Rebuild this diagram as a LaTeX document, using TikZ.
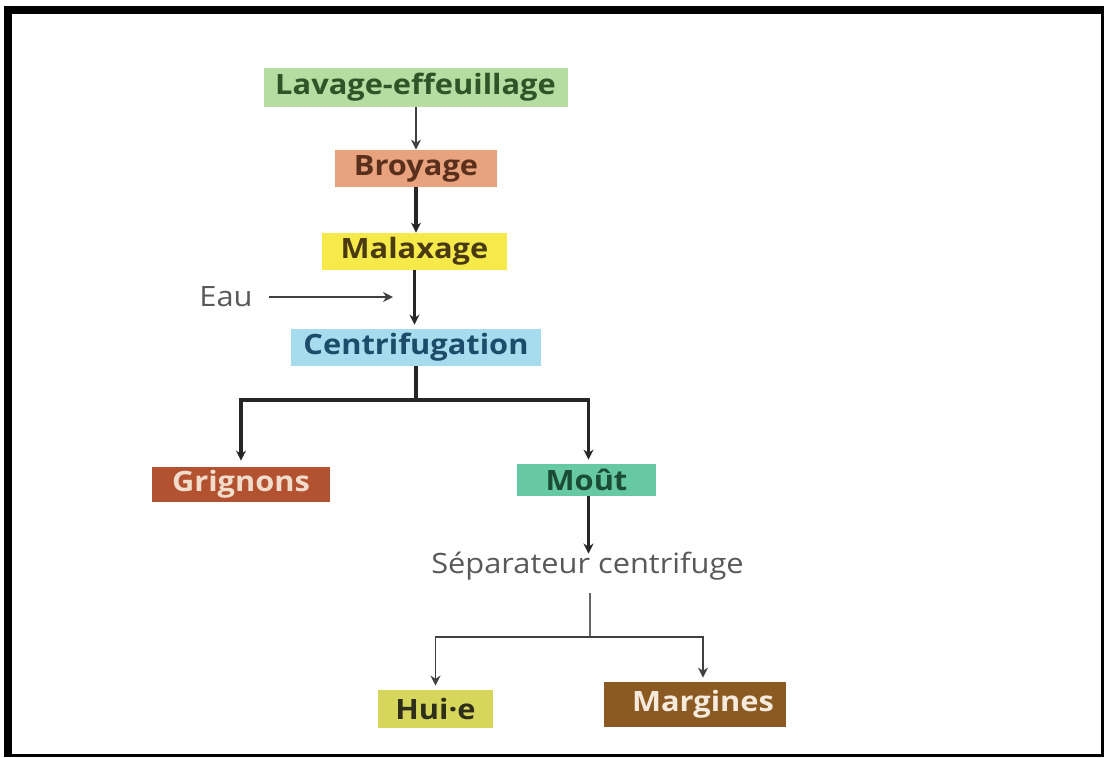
\documentclass[tikz,border=0pt]{standalone}
\usepackage{fontspec}
\setmainfont{Open Sans}
\newfontfamily\boxfont[FakeStretch=1.1]{Open Sans}
\usetikzlibrary{arrows.meta}

\definecolor{lavfill}{HTML}{B6DCA2}
\definecolor{lavtext}{HTML}{2E5528}
\definecolor{broyfill}{HTML}{E8A27E}
\definecolor{broytext}{HTML}{5A301C}
\definecolor{malfill}{HTML}{F6EA4A}
\definecolor{maltext}{HTML}{4A3A12}
\definecolor{cenfill}{HTML}{A6DCED}
\definecolor{centext}{HTML}{1D4C6B}
\definecolor{grigfill}{HTML}{B35230}
\definecolor{grigtext}{HTML}{F2DCCB}
\definecolor{moutfill}{HTML}{66C9A3}
\definecolor{mouttext}{HTML}{1B4D36}
\definecolor{huilfill}{HTML}{D6D65C}
\definecolor{huiltext}{HTML}{2E2E1A}
\definecolor{margfill}{HTML}{8B5A22}
\definecolor{margtext}{HTML}{F5EADC}

\tikzstyle{block} = [rectangle, inner sep=0pt, font=\boxfont\fontsize{14}{16}\selectfont\bfseries]
\tikzstyle{plain} = [inner sep=0pt, font=\boxfont\fontsize{14}{16}\selectfont, text=black!65]
\tikzstyle{flow} = [->, line width=1.7pt, black!85]
\tikzstyle{thinflow} = [->, line width=0.75pt, black!75]

\begin{document}
\begin{tikzpicture} [x=0.5pt, y=-0.5pt, >={Stealth[length=5pt,width=5pt]}]

% frame
\useasboundingbox (0,0) rectangle (1104,757);
\fill[black] (4,6) rectangle (1104,757);
\fill[white] (12,14) rectangle (1101,754);

\node at (415.5,87.5)[block,fill=lavfill,
               minimum width=152pt,minimum height=19.5pt]
               (lav) {\textcolor{lavtext}{Lavage-effeuillage}};

\node at (416,168.5)[block,fill=broyfill,
               minimum width=81pt,minimum height=18.5pt]
               (broy) {\textcolor{broytext}{Broyage}};

\node at (414.5,251.5)[block,fill=malfill,
               minimum width=92.5pt,minimum height=18.5pt]
               (malax) {\textcolor{maltext}{Malaxage}};

\node at (416,347.5)[block,fill=cenfill,
               minimum width=125pt,minimum height=18.5pt]
               (centri) {\textcolor{centext}{Centrifugation}};

\node at (226,297)[plain] (eau) {Eau};
\coordinate (eauend) at (393,297);

\draw[thinflow] (broy.north |- lav.south) -- (broy.north);
\draw[flow] (broy.south) -- (broy.south |- malax.north);
\draw[flow] (malax.south) -- ([yshift=2pt]malax.south |- centri.north);
\draw[thinflow,shorten <=8pt] (eau.east) -- (eauend);

\node at (241,484.5)[block,fill=grigfill,
               minimum width=89pt,minimum height=17.5pt]
               (grig) {\textcolor{grigtext}{Grignons}};

\node at (586.5,480)[block,fill=moutfill,
               minimum width=69.5pt,minimum height=16pt]
               (mout) {\textcolor{mouttext}{Moût}};

\coordinate (split) at (416,400);
\draw[line width=1.7pt,black!85] (centri.south) -- (split);
\draw[flow] (split) -| ([yshift=3pt]grig.north);
\draw[flow] (split) -| ([xshift=1pt,yshift=2pt]mout.north);

\node at (587.5,566)[plain] (sep) {Séparateur centrifuge};
\draw[flow] ([xshift=1pt]mout.south) -- ([xshift=1pt,yshift=-1pt]mout.south |- sep.north);

\node at (435.5,709)[block,fill=huilfill,
               minimum width=57.5pt,minimum height=19pt]
               (huile) {\textcolor{huiltext}{Hui·e}};

\node at (695,704.5)[block,fill=margfill,
               minimum width=91pt,minimum height=22.5pt]
               (marg) {\textcolor{margtext}{\hspace{8pt}Margines}};

\coordinate (split2) at (590,637);
\draw[line width=0.75pt,black!60] ([yshift=-6pt]sep.south -| split2) -- (split2);
\draw[thinflow] (split2) -| ([yshift=2pt]huile.north);
\draw[thinflow] (split2) -| ([xshift=4pt,yshift=2pt]marg.north);

\end{tikzpicture}
\end{document}
